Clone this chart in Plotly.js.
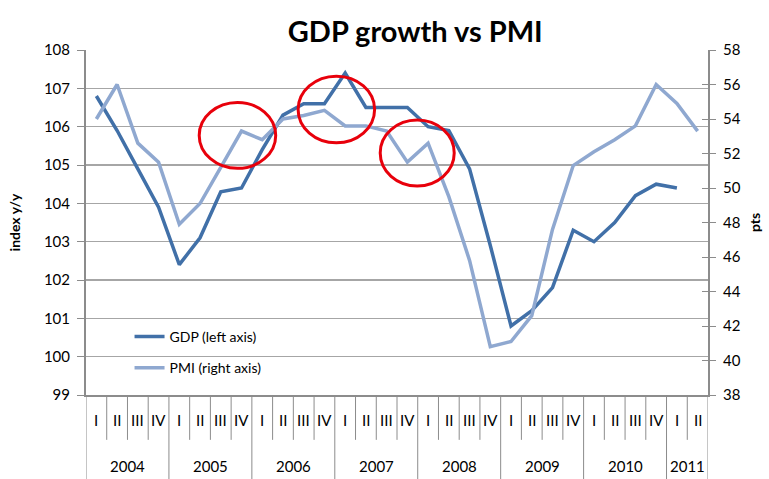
<!DOCTYPE html>
<html><head><meta charset="utf-8">
<script src="https://cdn.plot.ly/plotly-3.0.1.min.js"></script>
<style>body{margin:0;background:#fff}#chart{width:769px;height:479px}</style>
</head><body><div id="chart"></div>
<script>
const years = ['2004','2005','2006','2007','2008','2009','2010','2011'];
const quarters = ['I','II','III','IV'];
const quartersPerYear = [4,4,4,4,4,4,4,2];
const gdp = [106.8,105.9,104.9,103.9,102.4,103.1,104.3,104.4,105.4,106.3,106.6,106.6,107.4,106.5,106.5,106.5,106.0,105.9,104.9,102.9,100.8,101.2,101.8,103.3,103.0,103.5,104.2,104.5,104.4,null];
const pmi = [54.0,56.0,52.6,51.5,47.9,49.1,51.2,53.3,52.8,54.0,54.2,54.5,53.6,53.6,53.3,51.5,52.6,49.5,45.8,40.8,41.1,42.6,47.6,51.3,52.1,52.8,53.6,56.0,54.9,53.3];
const seriesNames = ['GDP (left axis)','PMI (right axis)'];
const highlightBoxes = [[0.182,0.657,0.305,0.848],[0.341,0.731,0.464,0.924],[0.473,0.606,0.592,0.797]];

const xCat = [], xQ = [], yearStart = [];
years.forEach((y,i)=>{ yearStart.push(xCat.length); for(let k=0;k<quartersPerYear[i];k++){ xCat.push(y+' '+quarters[k]); xQ.push(quarters[k]); } });
const N = xCat.length;
const FONT = 'Lato, "Open Sans", sans-serif';
const grey = '#8c8c8c';

const traces = [
 {x:xCat, y:gdp, name:seriesNames[0], type:'scatter', mode:'lines', yaxis:'y', legendgroup:'a',
  line:{color:'#4170a8', width:3.5}},
 {x:xCat, y:pmi, name:seriesNames[1], type:'scatter', mode:'lines', yaxis:'y2', legendgroup:'b',
  line:{color:'#8fa8d0', width:3.5}},
 {x:xCat, y:pmi.map(()=>null), yaxis:'y3', showlegend:false, hoverinfo:'skip', mode:'lines'}
];

const shapes = highlightBoxes.map(b=>({type:'circle', xref:'paper', yref:'paper', x0:b[0], y0:b[1], x1:b[2], y1:b[3],
   line:{color:'#e8000b', width:3}}));
const annotations = [];
for(let i=0;i<=N;i++){
  const isYear = yearStart.includes(i) || i===N;
  shapes.push({type:'line', xref:'x', yref:'paper', x0:i-0.5, x1:i-0.5, y0:0, y1:isYear?-0.245:-0.13,
    line:{color:grey, width:1}});
}
xQ.forEach((q,i)=>annotations.push({x:i, y:-0.072, xref:'x', yref:'paper', text:q, showarrow:false,
  font:{size:15, family:FONT}, xanchor:'center', yanchor:'middle'}));
years.forEach((y,i)=>annotations.push({x:yearStart[i]+(quartersPerYear[i]-1)/2, y:-0.207, xref:'x', yref:'paper', text:y, showarrow:false,
  font:{size:15, family:FONT}, xanchor:'center', yanchor:'middle'}));

const layout = {
 width:769, height:479,
 margin:{l:86, r:61, t:50, b:84},
 paper_bgcolor:'#fff', plot_bgcolor:'#fff',
 font:{family:FONT, size:14, color:'#000'},
 title:{text:'<b>GDP growth vs PMI</b>', font:{family:FONT, size:29, color:'#000'}, x:0.54, xref:'container', y:0.955, yref:'container'},
 showlegend:true,
 legend:{x:0.07, y:0.215, xanchor:'left', yanchor:'top', bgcolor:'rgba(0,0,0,0)', font:{size:14, family:FONT}, traceorder:'grouped', tracegroupgap:10},
 xaxis:{type:'category', range:[-0.5, N-0.5], showline:true, linecolor:grey, linewidth:2, ticks:'', showticklabels:false, showgrid:false},
 yaxis:{range:[99,108], dtick:1, showline:true, linecolor:grey, linewidth:2, ticks:'outside', ticklen:7, tickcolor:grey,
   ticklabelstandoff:4,
   showgrid:true, gridcolor:'#a6a6a6', gridwidth:1.5, zeroline:false, tickfont:{size:15, family:FONT},
   title:{text:'<b>index y/y</b>', font:{size:14, family:FONT}, standoff:20}},
 yaxis2:{range:[38,58], dtick:2, overlaying:'y', side:'right', showline:true, linecolor:grey, linewidth:2,
   ticks:'outside', ticklen:6, tickcolor:grey, ticklabelstandoff:4, showgrid:false, zeroline:false, tickfont:{size:15, family:FONT},
   title:{text:'<b>pts</b>', font:{size:14, family:FONT}, standoff:10}},
 yaxis3:{range:[38,58], dtick:2, overlaying:'y', side:'right', showline:false, ticks:'inside', ticklen:6, tickcolor:grey,
   showticklabels:false, showgrid:false, zeroline:false},
 shapes: shapes,
 annotations: annotations
};
Plotly.newPlot('chart', traces, layout, {displayModeBar:false, staticPlot:true});
</script></body></html>
